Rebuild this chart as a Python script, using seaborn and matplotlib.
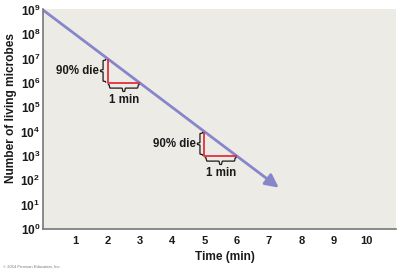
import numpy as np
import pandas as pd
import matplotlib
matplotlib.use("Agg")
import matplotlib.pyplot as plt
import seaborn as sns

# Survival curve (one decade lost per minute)
time_min = [0, 1, 2, 3, 4, 5, 6, 7, 7.3]
living = [1e9, 1e8, 1e7, 1e6, 1e5, 1e4, 1e3, 1e2, 5e1]

# Red "90% die" markers: start minute, count at start, count one minute later
mark_t = [2, 5]
mark_top = [1e7, 1e4]
mark_bottom = [1e6, 1e3]

x_ticks = [1, 2, 3, 4, 5, 6, 7, 8, 9, 10]
y_exps = [0, 1, 2, 3, 4, 5, 6, 7, 8, 9]

sns.set_style("white")
plt.rcParams["font.family"] = ["Liberation Sans", "DejaVu Sans"]
plt.rcParams["mathtext.fontset"] = "custom"
plt.rcParams["mathtext.bf"] = "Liberation Sans:bold"
plt.rcParams["mathtext.rm"] = "Liberation Sans:bold"

line_col = "#8686CA"
red = "#E0303C"
ink = "#1a1a1a"

fig = plt.figure(figsize=(4, 2.72), dpi=100)
ax = fig.add_axes([43 / 400, 1 - 229 / 272, 353 / 400, 220 / 272])
ax.set_facecolor("#ECEBE6")

df = pd.DataFrame({"t": time_min, "n": living})
sns.lineplot(data=df.iloc[:-1], x="t", y="n", ax=ax, color=line_col, lw=2.0)
ax.set_yscale("log")
ax.annotate("", xy=(time_min[-1], living[-1]), xytext=(time_min[-2], living[-2]),
            arrowprops=dict(arrowstyle="-|>,head_length=0.8,head_width=0.4",
                            color=line_col, lw=2.0, shrinkA=0, shrinkB=0))


def half_brace(n=60, k=250.0):
    t = np.linspace(0, 0.5, n)
    s = 0.5 * (1 / (1 + np.exp(-k * (t - 0.04))) + 1 / (1 + np.exp(-k * (t - 0.46))))
    s = (s - s[0]) / (s[-1] - s[0])
    return np.concatenate([t, 1 - t[::-1]]), np.concatenate([s, s[::-1]])


u, s = half_brace()
for t0, top, bot in zip(mark_t, mark_top, mark_bottom):
    lt, lb = np.log10(top), np.log10(bot)
    # red right angle
    ax.plot([t0, t0, t0 + 1], [top, bot, bot], color=red, lw=1.3, solid_capstyle="butt")
    # vertical brace to the left
    bx = t0 - 0.06 - 0.16 * s
    by = 10 ** (lt - 0.03 - u * (lt - lb - 0.06))
    ax.plot(bx, by, color=ink, lw=0.9)
    ax.text(t0 - 0.26, 10 ** ((lt + lb) / 2), "90% die", ha="right", va="center",
            fontsize=8.3, fontweight="bold", color=ink)
    # horizontal brace below
    hx = t0 + 0.02 + u * 0.96
    hy = 10 ** (lb - 0.07 - 0.28 * s)
    ax.plot(hx, hy, color=ink, lw=0.9)
    ax.text(t0 + 0.5, 10 ** (lb - 0.45), "1 min", ha="center", va="top",
            fontsize=8.3, fontweight="bold", color=ink)

ax.set_xlim(0, 10.93)
ax.set_ylim(1, 10 ** 9.04)
ax.set_xticks(x_ticks)
ax.set_xticklabels([str(v) for v in x_ticks], fontsize=8, fontweight="bold", color=ink)
ax.set_yticks([10.0 ** e for e in y_exps])
ax.set_yticklabels([r"$\mathbf{10^{%d}}$" % e for e in y_exps], fontsize=8.6, color=ink)
ax.yaxis.set_minor_locator(matplotlib.ticker.NullLocator())
ax.tick_params(axis="both", direction="in", length=5, width=1.0, color="#666666")
ax.tick_params(axis="x", pad=5)
ax.tick_params(axis="y", pad=2)

for side in ["top", "right"]:
    ax.spines[side].set_visible(False)
for side in ["left", "bottom"]:
    ax.spines[side].set_color("#777777")
    ax.spines[side].set_linewidth(1.2)

ax.set_xlabel("Time (min)", fontsize=8.6, fontweight="bold", color=ink)
ax.set_ylabel("Number of living microbes", fontsize=8.6, fontweight="bold", color=ink)
ax.xaxis.set_label_coords(0.516, -0.1)
ax.yaxis.set_label_coords(-0.075, 0.55)

fig.text(3 / 400, 1 - 267 / 272, "© 2014 Pearson Education, Inc.", fontsize=3,
         color="#777777", va="center")

fig.savefig("out.png", dpi=100)
